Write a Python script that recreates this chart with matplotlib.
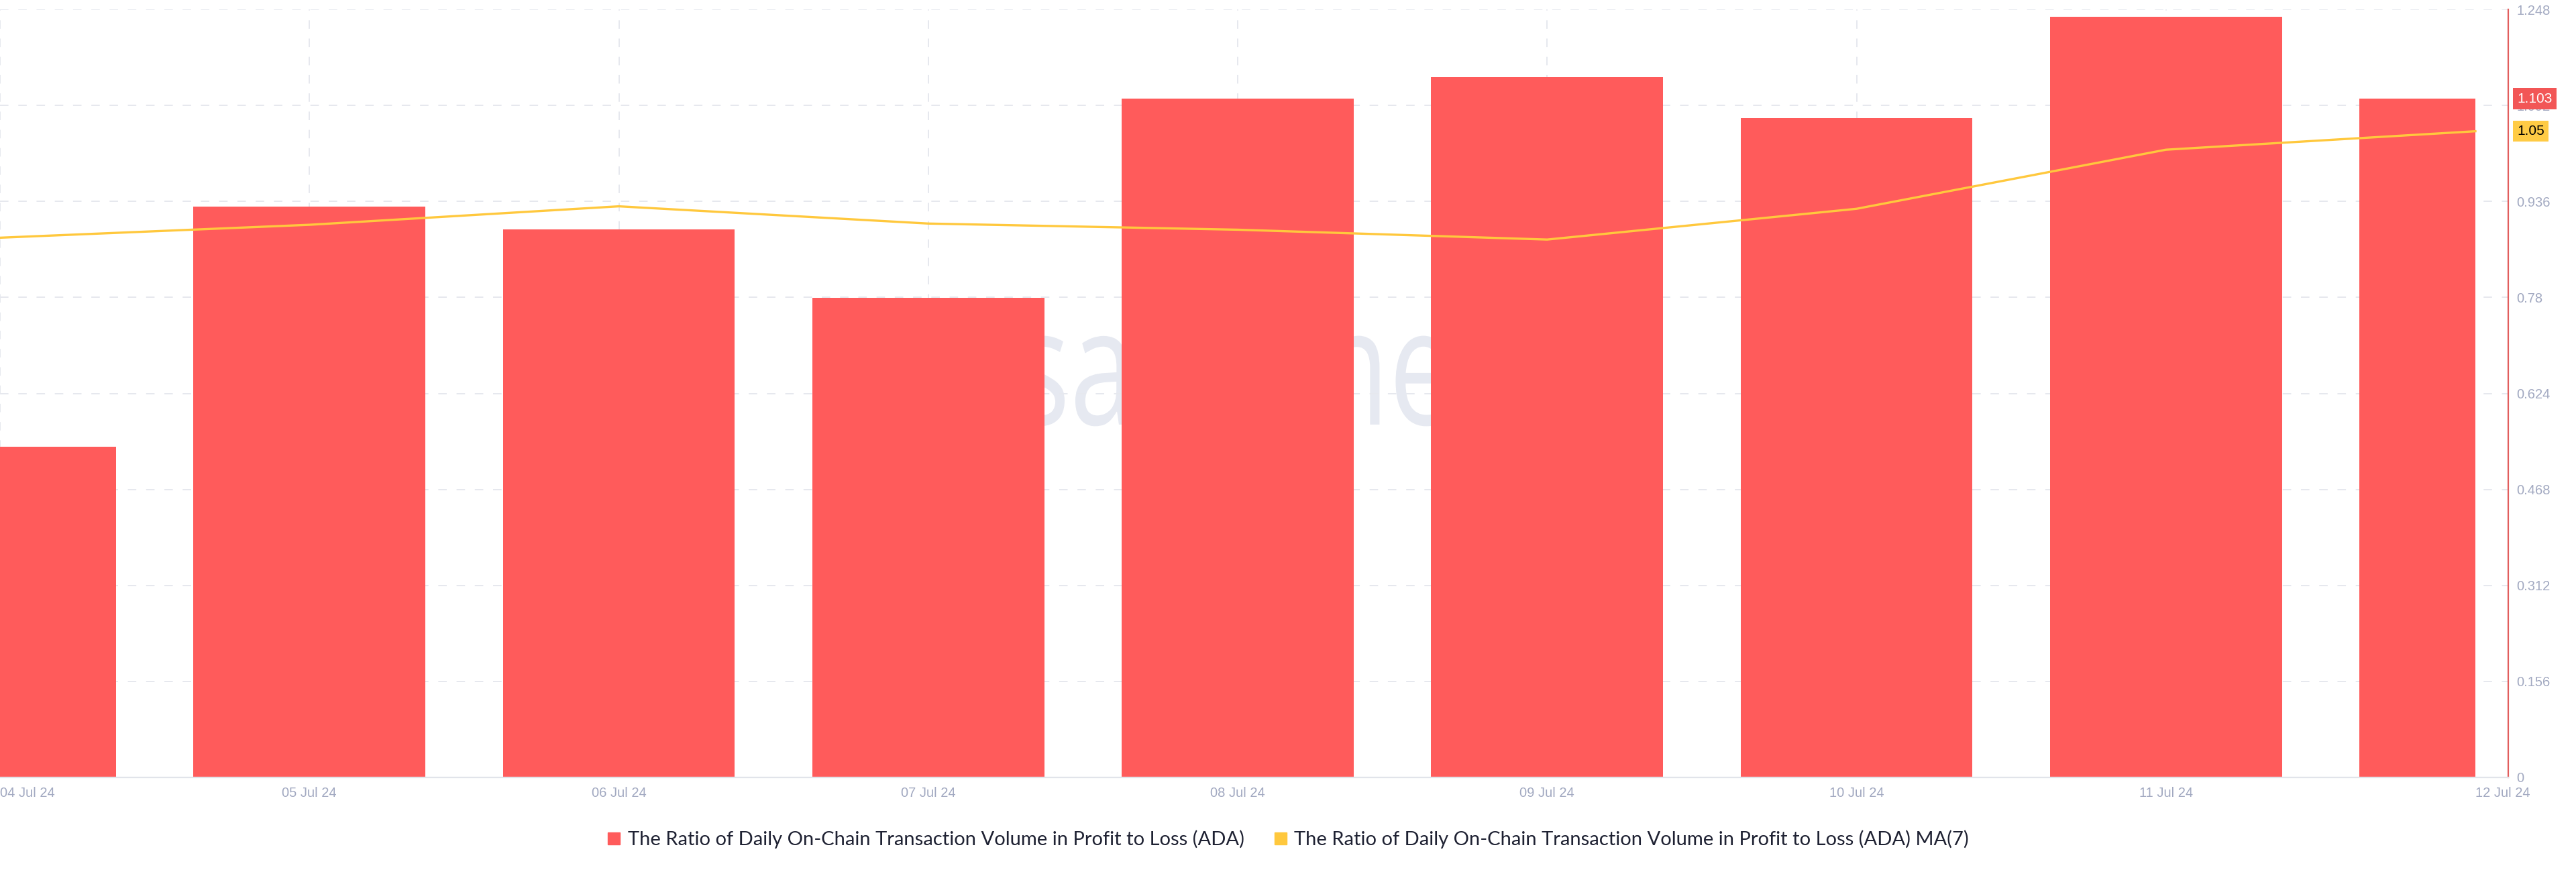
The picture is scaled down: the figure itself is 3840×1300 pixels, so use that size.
import matplotlib.pyplot as plt
from matplotlib.lines import Line2D
from matplotlib.patches import Rectangle, PathPatch
from matplotlib.textpath import TextPath
from matplotlib.font_manager import FontProperties
from matplotlib.transforms import Affine2D, blended_transform_factory

days = ['04 Jul 24', '05 Jul 24', '06 Jul 24', '07 Jul 24', '08 Jul 24',
        '09 Jul 24', '10 Jul 24', '11 Jul 24', '12 Jul 24']
ratio = [0.537, 0.928, 0.890, 0.779, 1.103, 1.138, 1.071, 1.236, 1.103]
ratio_ma7 = [0.877, 0.898, 0.928, 0.900, 0.890, 0.874, 0.924, 1.020, 1.050]
yticks = [0, 0.156, 0.312, 0.468, 0.624, 0.78, 0.936, 1.092, 1.248]
ytick_labels = ['0', '0.156', '0.312', '0.468', '0.624', '0.78', '0.936', '1.092', '1.248']

RED = '#ff5b5b'
YELLOW = '#ffc83d'
TICK = '#a2a9c1'
GRID = '#e6e8ee'

fig = plt.figure(figsize=(38.4, 13), dpi=100)
ax = fig.add_axes([0, 1 - 1159 / 1300, 3739 / 3840, (1159 - 14) / 1300])

x = list(range(len(days)))

# faint watermark behind the bars
tp = TextPath((0, 0), 'santiment', size=1, prop=FontProperties(family='Open Sans'))
ext = tp.get_extents()
wm = PathPatch(tp, facecolor='#e6e9f1', edgecolor='none', zorder=0.5)
wm.set_transform(Affine2D().translate(-(ext.x0 + ext.x1) / 2, 0).scale(176, 243)
                 .translate(1928, 1300 - 633))
ax.add_patch(wm)

bars = ax.bar(x, ratio, width=0.75, color=RED, zorder=2)
clip = Rectangle((0, 0), len(days) - 1, 10, transform=ax.transData)
for b in bars:
    b.set_clip_path(clip)

ax.plot(x, ratio_ma7, color=YELLOW, lw=2.4, zorder=3, solid_joinstyle='round')

ax.set_xlim(0, 3739 / 461.25)
ax.set_ylim(0, 1.248)

ax.set_xticks(x)
ax.set_xticklabels(days, fontsize=14.5, color=TICK, family='Liberation Sans')
xl = ax.get_xticklabels()
xl[0].set_ha('left')
xl[-1].set_ha('left')
ax.tick_params(axis='x', length=0, pad=10)

ax.yaxis.tick_right()
ax.set_yticks(yticks)
ax.set_yticklabels(ytick_labels, fontsize=14.5, color=TICK, family='Liberation Sans')
ax.tick_params(axis='y', length=0, pad=9)

ax.set_axisbelow(True)
ax.grid(True, color=GRID, lw=1.4, linestyle=(0, (6.5, 7.5)))
ax.xaxis.get_gridlines()[-1].set_visible(False)

for s in ['top', 'left']:
    ax.spines[s].set_visible(False)
ax.spines['right'].set_color('#e25d5d')
ax.spines['right'].set_linewidth(1.6)
ax.spines['bottom'].set_color('#e1e4ea')
ax.spines['bottom'].set_linewidth(1.6)

# last-value badges on the right axis
tr = blended_transform_factory(ax.transAxes, ax.transData)
ax.text(1.0 + 13 / 3739, ratio[-1], f'{ratio[-1]:.3f}', transform=tr, fontsize=15,
        family='Liberation Sans', color='white', va='center', ha='left', zorder=5, clip_on=False,
        bbox=dict(boxstyle='square,pad=0.3', facecolor='#f25656', edgecolor='none'))
ax.text(1.0 + 13 / 3739, ratio_ma7[-1], f'{ratio_ma7[-1]:.2f}', transform=tr, fontsize=15,
        family='Liberation Sans', color='black', va='center', ha='left', zorder=5, clip_on=False,
        bbox=dict(boxstyle='square,pad=0.3', facecolor='#ffcb45', edgecolor='none'))

handles = [
    Line2D([], [], marker='s', linestyle='none', markersize=13, color=RED),
    Line2D([], [], marker='s', linestyle='none', markersize=13, color=YELLOW),
]
labels = ['The Ratio of Daily On-Chain Transaction Volume in Profit to Loss (ADA)',
          'The Ratio of Daily On-Chain Transaction Volume in Profit to Loss (ADA) MA(7)']
fig.legend(handles, labels, loc='center', bbox_to_anchor=(0.5, 1 - 1251 / 1300), ncol=2,
           frameon=False, handlelength=0.7, handletextpad=0.35, columnspacing=1.5,
           prop=FontProperties(family='Lato', size=21), labelcolor='#1f2233')

fig.savefig('out.png', dpi=100)
